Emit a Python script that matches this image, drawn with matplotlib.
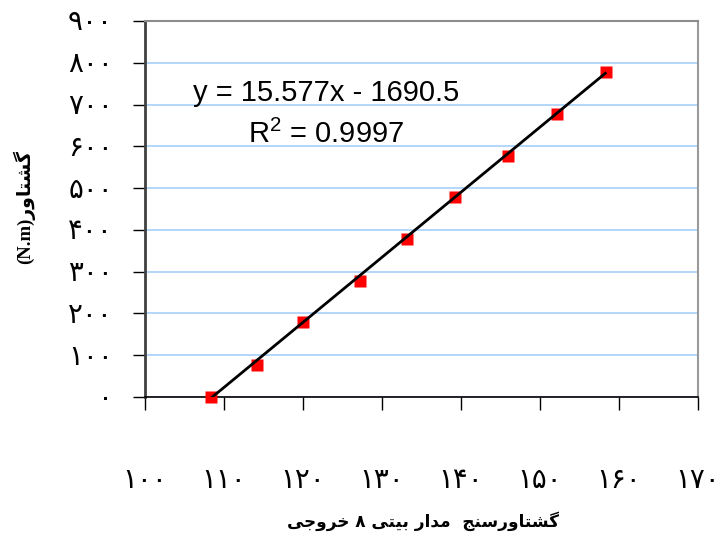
import matplotlib
matplotlib.use("Agg")
import matplotlib.pyplot as plt
import numpy as np

# Calibration data: 8-bit circuit output vs. torque (N.m)
output_8bit = [108.3, 114.2, 120.05, 127.2, 133.2, 139.3, 146.0, 152.1, 158.4]
torque_nm = [0, 76, 179, 278, 378, 479, 578, 677, 779]

# Linear trendline reported on the chart
slope = 15.577
intercept = -1690.5
r_squared = 0.9997

x_ticks = [100, 110, 120, 130, 140, 150, 160, 170]
y_ticks = [0, 100, 200, 300, 400, 500, 600, 700, 800, 900]

PERSIAN_DIGITS = str.maketrans("0123456789", "۰۱۲۳۴۵۶۷۸۹")


def fa_num(v):
    return str(v).translate(PERSIAN_DIGITS)


# Persian labels, written in pre-shaped presentation forms (visual order)
x_label = ("\uFBFD\uFE9F\uFEED\uFEAE\uFEA7" + " " + "\u06F8" + " "
           + "\uFBFD\uFE98\uFEF4\uFE91" + " "
           + "\uFEAD\uFE8D\uFEAA\uFEE3" + "  "
           + "\uFE9E\uFEE8\uFEB3\uFEAD\uFEED\uFE8E\uFE98\uFEB8\uFB94")
y_label = "(N.m)" + "\uFEAD\uFEED\uFE8E\uFE98\uFEB8\uFB94"

fig = plt.figure(figsize=(7.2, 5.36), dpi=100)
W, H = 720, 536
ax = fig.add_axes([145 / W, 1 - 397 / H, (698 - 145) / W, (397 - 21) / H])

ax.set_xlim(100, 170)
ax.set_ylim(0, 900)
ax.set_xticks(x_ticks)
ax.set_yticks(y_ticks)

num_font = dict(family=["Liberation Serif", "DejaVu Sans"], size=20)
ax.set_xticklabels([fa_num(v) for v in x_ticks], fontdict=num_font)
ax.set_yticklabels([fa_num(v) for v in y_ticks], fontdict=num_font)
ax.tick_params(axis="both", direction="out", length=9, width=1, color="black")
ax.tick_params(axis="x", pad=43)
ax.tick_params(axis="y", pad=14)

ax.yaxis.grid(True, color="#A6D0FA", linewidth=1.2)
ax.set_axisbelow(True)

ax.spines["left"].set_color("#404040")
ax.spines["left"].set_linewidth(2)
ax.spines["bottom"].set_color("black")
ax.spines["bottom"].set_linewidth(1.2)
ax.spines["top"].set_color("#8C8C8C")
ax.spines["top"].set_linewidth(1.5)
ax.spines["right"].set_color("#9A9A9A")
ax.spines["right"].set_linewidth(1.5)

# Measured points
ax.plot(output_8bit, torque_nm, linestyle="none", marker="s", markersize=9.2,
        color="#FF0000", markeredgecolor="none", zorder=3, clip_on=False)

# Trendline across the measured range
xs = np.array([output_8bit[0], output_8bit[-1]])
ax.plot(xs, slope * xs + intercept, color="black", linewidth=2, zorder=4,
        solid_capstyle="butt")

eq_font = dict(family="Liberation Sans", size=21, ha="center", va="center")
ax.text(122.97, 727.6, "y = %.3fx - %.1f" % (slope, -intercept), **eq_font)
ax.text(122.97, 628.3, r"$\mathregular{R^2}$ = %.4f" % r_squared, **eq_font)

fig.text(423 / W, 1 - 521 / H, x_label, ha="center", va="center",
         family=["DejaVu Sans"], weight="bold", size=12.2)
fig.text(24 / W, 1 - 207 / H, y_label, ha="center", va="center", rotation=90,
         family=["Liberation Serif", "DejaVu Sans"], weight="bold", size=13.5)

fig.savefig("out.png", dpi=100)
